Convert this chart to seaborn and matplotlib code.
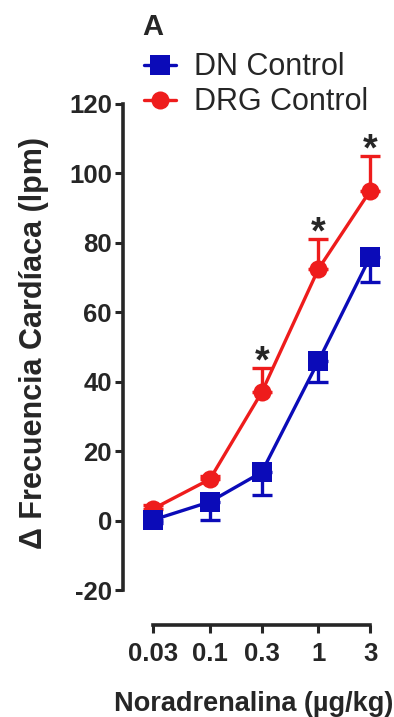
import numpy as np
import pandas as pd
import seaborn as sns
import matplotlib
matplotlib.use("Agg")
import matplotlib.pyplot as plt

# dose (ug/kg) and responses (mean, one-sided SEM)
dose = [0.03, 0.1, 0.3, 1, 3]
dose_labels = ["0.03", "0.1", "0.3", "1", "3"]
dn_mean = [0.3, 5.5, 14, 46, 76]
dn_sem = [1, 5.2, 6.5, 6, 7.2]
drg_mean = [3.5, 12, 37, 72.5, 95]
drg_sem = [1, 1, 7, 8.5, 10]
signif = [False, False, True, True, True]

blue = "#0b0bb8"
red = "#ee1c1c"

sns.set_style("ticks")
plt.rcParams["font.family"] = ["Liberation Sans", "DejaVu Sans"]
plt.rcParams["axes.unicode_minus"] = False

df_dn = pd.DataFrame({"dose": dose, "resp": dn_mean})
df_drg = pd.DataFrame({"dose": dose, "resp": drg_mean})

fig = plt.figure(figsize=(3.94, 7.17), dpi=100)
ax = fig.add_axes([0.312, 0.128, 0.665, 0.732])

# red first, blue sits on top where they overlap
sns.lineplot(data=df_drg, x="dose", y="resp", ax=ax, color=red, lw=2.4,
             marker="o", markersize=13, markeredgewidth=0, label="DRG Control")
ax.errorbar(dose, drg_mean, yerr=[np.zeros(len(dose)), drg_sem], fmt="none",
            ecolor=red, elinewidth=2.4, capsize=7.5, capthick=2.4)
sns.lineplot(data=df_dn, x="dose", y="resp", ax=ax, color=blue, lw=2.4,
             marker="s", markersize=15, markeredgewidth=0, label="DN Control")
ax.errorbar(dose, dn_mean, yerr=[dn_sem, np.zeros(len(dose))], fmt="none",
            ecolor=blue, elinewidth=2.4, capsize=7.5, capthick=2.4)

for d, m, s, flag in zip(dose, drg_mean, drg_sem, signif):
    if flag:
        ax.text(d, m + s - 3.5, "*", ha="center", va="bottom",
                fontsize=27, fontweight="bold")

ax.set_xscale("log")
ax.set_xlim(0.0158, 4.1)
ax.set_ylim(-30, 121)
ax.set_xticks(dose)
ax.set_xticklabels(dose_labels)
ax.minorticks_off()
ax.set_yticks(range(-20, 121, 20))
ax.spines["left"].set_bounds(-20, 120)
ax.spines["bottom"].set_bounds(0.03, 3)
ax.spines["top"].set_visible(False)
ax.spines["right"].set_visible(False)
for sp in ["left", "bottom"]:
    ax.spines[sp].set_linewidth(2.6)
ax.tick_params(width=2.2, length=6, labelsize=18.5, pad=2)
ax.tick_params(axis="x", pad=6)
for lab in ax.get_xticklabels() + ax.get_yticklabels():
    lab.set_fontweight("bold")

ax.set_xlabel("Noradrenalina (\u00b5g/kg)", fontsize=19.5, fontweight="bold", labelpad=18)
ax.set_ylabel("\u0394 Frecuencia Card\u00edaca (lpm)", fontsize=22, fontweight="bold")
ax.yaxis.set_label_coords(-0.283, 0.537)

h, l = ax.get_legend_handles_labels()
order = [l.index("DN Control"), l.index("DRG Control")]
ax.legend([h[i] for i in order], [l[i] for i in order], loc="upper left",
          bbox_to_anchor=(0.365, 0.927), bbox_transform=fig.transFigure,
          frameon=False, fontsize=22, handlelength=1.05, handletextpad=0.6,
          borderpad=0, borderaxespad=0, labelspacing=0.16)

fig.text(0.362, 0.962, "A", fontsize=21, fontweight="bold", ha="left", va="center")

fig.savefig("out.png", dpi=100)
